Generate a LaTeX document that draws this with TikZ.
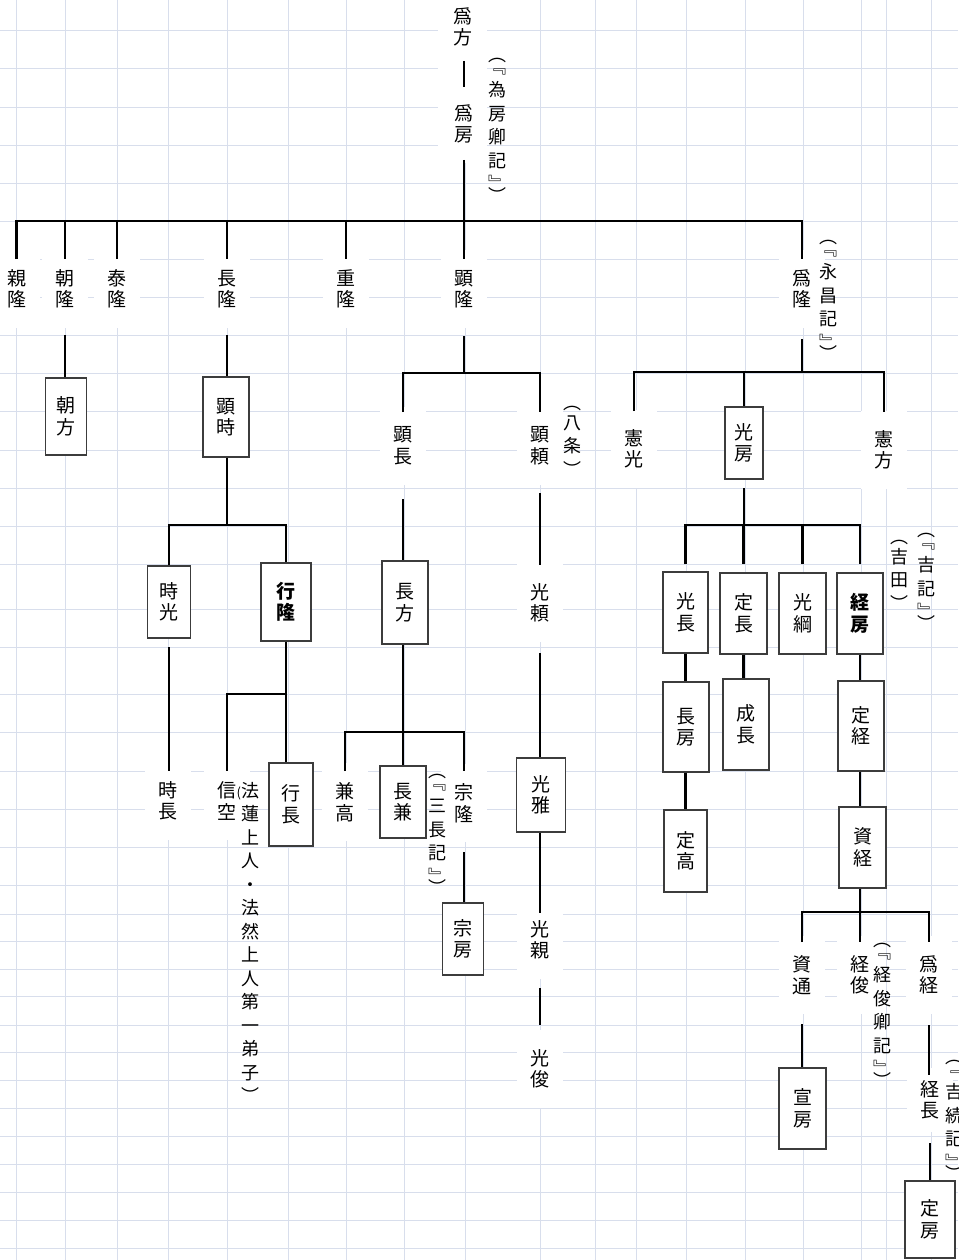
\documentclass[tikz,border=0pt]{standalone}
\usepackage{fontspec}
\newfontfamily\jp{Noto Sans CJK JP}
\definecolor{gridc}{RGB}{216,222,236}
\definecolor{boxc}{RGB}{60,60,60}
\tikzset{
  conn/.style={line width=2.4pt, black, line join=miter},
  lbl/.style={fill=white, inner sep=0pt, minimum width=46pt, minimum height=78pt, align=center, font=\jp\fontsize{19}{21.5}\selectfont},
  bx/.style 2 args={draw=boxc, line width=1.3pt, fill=white, inner sep=0pt, minimum width=#1pt, minimum height=#2pt, align=center, font=\jp\fontsize{19}{21.5}\selectfont},
  bbx/.style 2 args={bx={#1}{#2}, font=\jp\bfseries\fontsize{19}{21.5}\selectfont},
  note/.style={inner sep=0pt, align=center, anchor=north, font=\jp\fontsize{18}{23.5}\selectfont},
}
\begin{document}
\begin{tikzpicture}[x=1pt,y=-1pt]
\useasboundingbox (0,0) rectangle (958,1260);
\fill[white] (0,0) rectangle (958,1260);
% grid
\foreach \x in {16.5,65,117,168.5,227,288,346,404,465,540,595,636,686,745,803,861,886,931}
  \draw[gridc, line width=1pt] (\x,0) -- (\x,1260);
\foreach \y in {30.7,69,107.3,145.3,183.3,221,259,297,335.7,373.3,411.7,450,488.3,526,564.3,609.3,647.3,694.3,732.7,771,809.3,847.3,885.7,914,941.7,969,996.7,1025,1052.7,1080.7,1108.3,1136,1164,1192,1220,1248.3}
  \draw[gridc, line width=1pt] (0,\y) -- (958,\y);
\fill[white] (438,0) rectangle (487,158);

% plain labels
\node[lbl] (tamekata) at (463,27) {爲\\方};
\node[lbl] (tamefusa) at (464,124) {爲\\房};
\node[lbl] (chikataka) at (16.5,289) {親\\隆};
\node[lbl] (tomotaka) at (65,289) {朝\\隆};
\node[lbl] (yasutaka) at (117,289) {泰\\隆};
\node[lbl] (nagataka) at (227,289) {長\\隆};
\node[lbl] (shigetaka) at (346,289) {重\\隆};
\node[lbl] (akitaka) at (464,289) {顕\\隆};
\node[lbl] (tametaka) at (802,289) {爲\\隆};
\node[lbl] (akinaga) at (403,446) {顕\\長};
\node[lbl] (akiyori) at (540,446) {顕\\頼};
\node[lbl] (norimitsu) at (634,449) {憲\\光};
\node[lbl] (norikata) at (884,450) {憲\\方};
\node[lbl] (mitsuyori) at (540,603) {光\\頼};
\node[lbl] (mitsuchika) at (540,940) {光\\親};
\node[lbl] (mitsutoshi) at (540,1069) {光\\俊};
\node[lbl] (tokinaga) at (168,801) {時\\長};
\node[lbl] (shinku) at (227,801) {信\\空};
\node[lbl] (kanetaka) at (345,802) {兼\\高};
\node[lbl] (munetaka) at (464,803) {宗\\隆};
\node[lbl] (suketsu) at (802,975) {資\\通};
\node[lbl] (tsunetoshi) at (860,975) {経\\俊};
\node[lbl] (tametsune) at (929,975) {爲\\経};
\node[lbl, minimum height=64pt] (tsunenaga) at (930,1100) {経\\長};

% boxed names
\node[bx={41}{77}] (tomokata) at (66,416.5) {朝\\方};
\node[bx={46}{80}] (akitoki) at (226,417) {顕\\時};
\node[bx={43}{72}] (tokimitsu) at (169,602) {時\\光};
\node[bbx={50}{78}] (yukitaka) at (286,602) {行\\隆};
\node[bx={44}{83}] (yukinaga) at (291,804.5) {行\\長};
\node[bx={46}{83}] (nagakata) at (405,602.5) {長\\方};
\node[bx={46}{72}] (nagakane) at (403,802) {長\\兼};
\node[bx={41}{72}] (munefusa) at (463,939) {宗\\房};
\node[bx={49}{74}] (mitsumasa) at (541,795) {光\\雅};
\node[bx={38}{72}] (mitsufusa) at (744,443) {光\\房};
\node[bx={45}{81}] (mitsunaga) at (685.5,612.5) {光\\長};
\node[bx={47}{81}] (sadanaga) at (743.5,613.5) {定\\長};
\node[bx={47}{81}] (mitsutsuna) at (802.5,613.5) {光\\綱};
\node[bbx={46}{81}] (tsunefusa) at (860,613.5) {経\\房};
\node[bx={46}{90}] (nagafusa) at (686,727) {長\\房};
\node[bx={46}{91}] (narinaga) at (746,724.5) {成\\長};
\node[bx={46}{90}] (sadatsune) at (861,726) {定\\経};
\node[bx={43}{82}] (sadataka) at (685.5,851) {定\\高};
\node[bx={47}{81}] (suketsune) at (862.5,847.5) {資\\経};
\node[bx={47}{81}] (nobufusa) at (802.5,1108.5) {宣\\房};
\node[bx={50}{77}] (sadafusa) at (930,1219.5) {定\\房};

% annotations
\node[note] (n1) at (497,58) {︵\\[-12pt]﹃\\為\\房\\卿\\記\\﹄\\[-12pt]︶};
\node[note] (n2) at (828,240) {︵\\[-12pt]﹃\\永\\昌\\記\\﹄\\[-12pt]︶};
\node[note] (n3) at (572,406) {︵\\[-4pt]八\\条\\︶};
\node[note] (n4) at (250,782) {\llap{\fontsize{13}{13}\selectfont(}法\\蓮\\上\\人\\・\\法\\然\\上\\人\\第\\一\\弟\\子\\︶};
\node[note] (n5) at (437,774) {︵\\[-12pt]﹃\\三\\長\\記\\﹄\\[-12pt]︶};
\node[note] (n6) at (899,540) {︵\\[-4pt]吉\\田\\︶};
\node[note] (n7) at (926,533) {︵\\[-12pt]﹃\\吉\\記\\﹄\\[-12pt]︶};
\node[note] (n8) at (882,943) {︵\\[-12pt]﹃\\経\\俊\\卿\\記\\﹄\\[-12pt]︶};
\node[note] (n9) at (954,1060) {︵\\[-12pt]﹃\\吉\\続\\記\\﹄\\[-12pt]︶};

% connectors
\draw[conn] (tamefusa |- 0,61) -- (tamefusa |- 0,87);
\draw[conn] (tamefusa |- 0,160) -- (tamefusa |- 0,221);
\draw[conn] (chikataka |- 0,259) -- (chikataka |- 0,221) -- (tametaka |- 0,221) -- (tametaka |- 0,259);
\foreach \n in {tomotaka,yasutaka,nagataka,shigetaka,akitaka}
  \draw[conn] (\n |- 0,221) -- (\n |- 0,259);
\draw[conn] (tomotaka |- 0,335) -- (tomotaka |- tomokata.north);
\draw[conn] (nagataka |- 0,335) -- (nagataka |- akitoki.north);
\draw[conn] (nagataka |- akitoki.south) -- (nagataka |- 0,525);
\draw[conn] (tokimitsu.north) -- (tokimitsu |- 0,525) -- (yukitaka |- 0,525) -- (yukitaka.north);
\draw[conn] (tokimitsu |- 0,647) -- (tokimitsu |- 0,771);
\draw[conn] (yukitaka.south) -- (yukitaka |- yukinaga.north);
\draw[conn] (yukitaka |- 0,694) -- (shinku |- 0,694) -- (shinku |- 0,771);
\draw[conn] (akitaka |- 0,336) -- (akitaka |- 0,373);
\draw[conn] (akinaga |- 0,412) -- (akinaga |- 0,373) -- (akiyori |- 0,373) -- (akiyori |- 0,412);
\draw[conn] (akinaga |- 0,499) -- (akinaga |- nagakata.north);
\draw[conn] (akiyori |- 0,493) -- (akiyori |- 0,565);
\draw[conn] (mitsuyori |- 0,653) -- (mitsuyori |- mitsumasa.north);
\draw[conn] (mitsuyori |- mitsumasa.south) -- (mitsuyori |- 0,913);
\draw[conn] (mitsuyori |- 0,988) -- (mitsuyori |- 0,1025);
\draw[conn] (akinaga |- nagakata.south) -- (akinaga |- 0,732);
\draw[conn] (kanetaka |- 0,771) -- (kanetaka |- 0,732) -- (munetaka |- 0,732) -- (munetaka |- 0,771);
\draw[conn] (akinaga |- 0,732) -- (akinaga |- nagakane.north);
\draw[conn] (munetaka |- 0,852) -- (munetaka |- munefusa.north);
\draw[conn] (tametaka |- 0,339) -- (tametaka |- 0,372);
\draw[conn] (norimitsu |- 0,411) -- (norimitsu |- 0,372) -- (norikata |- 0,372) -- (norikata |- 0,412);
\draw[conn] (mitsufusa |- 0,372) -- (mitsufusa.north);
\draw[conn] (mitsufusa |- 0,488) -- (mitsufusa |- 0,525);
\draw[conn] (mitsunaga |- 0,564) -- (mitsunaga |- 0,525) -- (tsunefusa |- 0,525) -- (tsunefusa |- 0,564);
\draw[conn] (sadanaga |- 0,525) -- (sadanaga |- 0,564);
\draw[conn] (mitsutsuna |- 0,525) -- (mitsutsuna |- 0,564);
\draw[conn] (mitsunaga.south) -- (mitsunaga |- nagafusa.north);
\draw[conn] (sadanaga.south) -- (sadanaga |- narinaga.north);
\draw[conn] (tsunefusa.south) -- (tsunefusa |- sadatsune.north);
\draw[conn] (mitsunaga |- nagafusa.south) -- (mitsunaga |- sadataka.north);
\draw[conn] (tsunefusa |- sadatsune.south) -- (tsunefusa |- suketsune.north);
\draw[conn] (tsunefusa |- suketsune.south) -- (tsunefusa |- 0,912);
\draw[conn] (suketsu |- 0,942) -- (suketsu |- 0,912) -- (tametsune |- 0,912) -- (tametsune |- 0,942);
\draw[conn] (tsunetoshi |- 0,912) -- (tsunetoshi |- 0,942);
\draw[conn] (suketsu |- 0,1024) -- (suketsu |- nobufusa.north);
\draw[conn] (tametsune |- 0,1025) -- (tametsune |- 0,1075);
\draw[conn] (tsunenaga |- 0,1143) -- (tsunenaga |- sadafusa.north);
\end{tikzpicture}
\end{document}
